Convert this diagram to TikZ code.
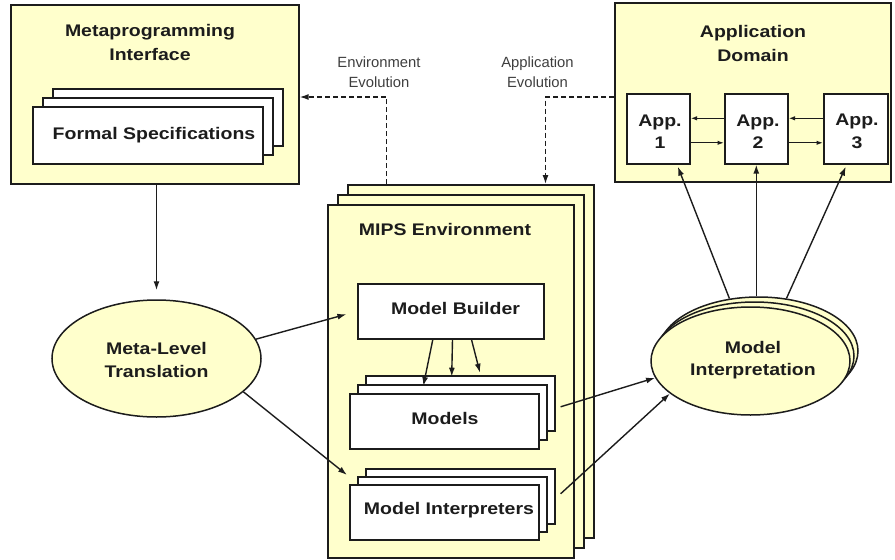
\documentclass[tikz,border=0pt]{standalone}
\usepackage{fontspec}
\setmainfont{Liberation Sans}
\newfontfamily\widesans{Liberation Sans}[FakeStretch=1.16]
\usetikzlibrary{shapes.geometric,arrows.meta}
\definecolor{paper}{HTML}{FFFFCC}
\definecolor{ink}{HTML}{1C1C1C}
\tikzset{
  panel/.style={draw=ink, line width=1.6pt, fill=paper, inner sep=0pt, anchor=north west},
  card/.style={draw=ink, line width=1.6pt, fill=white, inner sep=0pt, anchor=north west},
  oval/.style={ellipse, draw=ink, line width=1.5pt, fill=paper, inner sep=0pt},
  heading/.style={font=\widesans\bfseries\fontsize{16.8}{24}\selectfont, text=ink, align=center, inner sep=0pt},
  tight/.style={font=\widesans\bfseries\fontsize{16.8}{22.5}\selectfont},
  note/.style={font=\fontsize{14.8}{20}\selectfont, text=ink!85, align=center, inner sep=0pt},
  flow/.style={draw=ink, line width=1.4pt, -{Latex[length=9pt,width=6pt]}},
  hop/.style={draw=ink, line width=1.3pt, -{Latex[length=6.5pt,width=4.5pt]}},
  evo/.style={flow, dash pattern=on 5pt off 3pt},
}
\begin{document}
\begin{tikzpicture}[x=1pt, y=-1pt]
\useasboundingbox (0,0) rectangle (895,560);

% Metaprogramming interface with its stack of formal specifications
\node[panel, minimum width=288pt, minimum height=179pt] (meta) at (10,4) {};
\node[heading] (metaT) at (150,42) {Metaprogramming\\Interface};
\node[card, minimum width=230pt, minimum height=57pt] (fsB) at (52,88) {};
\node[card, minimum width=230pt, minimum height=57pt] (fsM) at (42,97) {};
\node[card, minimum width=230pt, minimum height=57pt] (fs) at (32,106) {};
\node[heading, anchor=base] (fsT) at (154,139) {Formal Specifications};

% Application domain with three applications
\node[panel, minimum width=276pt, minimum height=179pt] (dom) at (614,2) {};
\node[heading] (domT) at (753,43) {Application\\Domain};
\node[card, minimum width=63pt, minimum height=70pt] (app1) at (626,93) {};
\node[card, minimum width=63pt, minimum height=70pt] (app2) at (724,93) {};
\node[card, minimum width=64pt, minimum height=70pt] (app3) at (823,93) {};
\node[heading, tight] (app1T) at (660,131.5) {App.\\1};
\node[heading, tight] (app2T) at (758,131.5) {App.\\2};
\node[heading, tight] (app3T) at (857,131.5) {App.\\3};

% MIPS environment stack
\node[panel, minimum width=246pt, minimum height=353pt] (mipsB) at (347,184) {};
\node[panel, minimum width=246pt, minimum height=353pt] (mipsM) at (337,194) {};
\node[panel, minimum width=246pt, minimum height=353pt] (mips) at (327,204) {};
\node[heading, anchor=base] (mipsT) at (445,235) {MIPS Environment};

\node[card, minimum width=186pt, minimum height=55pt] (builder) at (357,283) {};
\node[heading, anchor=base] (builderT) at (455.5,314) {Model Builder};

\node[card, minimum width=189pt, minimum height=55pt] (modelsB) at (365,375) {};
\node[card, minimum width=189pt, minimum height=55pt] (modelsM) at (357,384) {};
\node[card, minimum width=189pt, minimum height=55pt] (models) at (349,393) {};
\node[heading, anchor=base] (modelsT) at (445,424) {Models};

\node[card, minimum width=189pt, minimum height=55pt] (interpB) at (365,468) {};
\node[card, minimum width=189pt, minimum height=55pt] (interpM) at (357,476) {};
\node[card, minimum width=189pt, minimum height=55pt] (interp) at (349,484) {};
\node[heading, anchor=base] (interpT) at (449,514) {Model Interpreters};

% Translation and interpretation ellipses
\node[oval, minimum width=209pt, minimum height=117pt] (mlt) at (156.5,358.5) {};
\node[heading, tight] (mltT) at (156.5,360) {Meta-Level\\Translation};

\node[oval, minimum width=199pt, minimum height=108pt] (miB) at (758.5,351) {};
\node[oval, minimum width=199pt, minimum height=108pt] (miM) at (754.5,356) {};
\node[oval, minimum width=199pt, minimum height=108pt] (mi) at (750.5,361) {};
\node[heading, tight] (miT) at (753,360) {Model\\Interpretation};

% Evolution feedback (dashed)
\node[note] (envT) at (379,72.5) {Environment\\Evolution};
\node[note] (appEvT) at (537.5,72) {Application\\Evolution};
\coordinate (envTurn) at (386.5,97);
\coordinate (appTurn) at (545.5,97);
\draw[evo] (mipsB.north -| envTurn) -- (envTurn) -- (envTurn -| meta.east);
\draw[evo] (appTurn -| dom.west) -- (appTurn) -- (appTurn |- mipsB.north);

% Main flow
\draw[flow, shorten >=9pt] (mlt.north |- meta.south) -- (mlt.north);
\draw[flow, shorten >=11pt] (mlt.11.5) -- (builder.west);
\draw[flow] (mlt.-21.7) -- ([xshift=-2pt,yshift=9pt]interp.north west);

\draw[flow] ([xshift=-18pt]builder.south) -- ([xshift=74.3pt,yshift=7pt]models.north west);
\draw[flow] ([xshift=1.7pt]builder.south) -- ([xshift=102.7pt,yshift=16.3pt]models.north west);
\draw[flow] ([xshift=20.7pt]builder.south) -- ([xshift=131pt,yshift=20.3pt]models.north west);

\draw[flow] ([xshift=21pt,yshift=14.5pt]models.east) -- (mi.190);
\draw[flow] ([xshift=21pt,yshift=18.5pt]interp.east) -- (mi.202);

\draw[flow] (miB.119) -- ([xshift=19.5pt,yshift=-2pt]app1.south);
\draw[flow] (app2.south |- miB.north) -- (app2.south);
\draw[flow] (miB.62) -- ([xshift=-10pt,yshift=-2pt]app3.south);

% Links between the applications
\draw[hop] ([yshift=10.5pt]app2.west) -- ([yshift=10.5pt]app1.east);
\draw[hop] ([yshift=-14pt]app1.east) -- ([yshift=-14pt]app2.west);
\draw[hop] ([yshift=10.5pt]app3.west) -- ([yshift=10.5pt]app2.east);
\draw[hop] ([yshift=-14pt]app2.east) -- ([yshift=-14pt]app3.west);
\end{tikzpicture}
\end{document}
